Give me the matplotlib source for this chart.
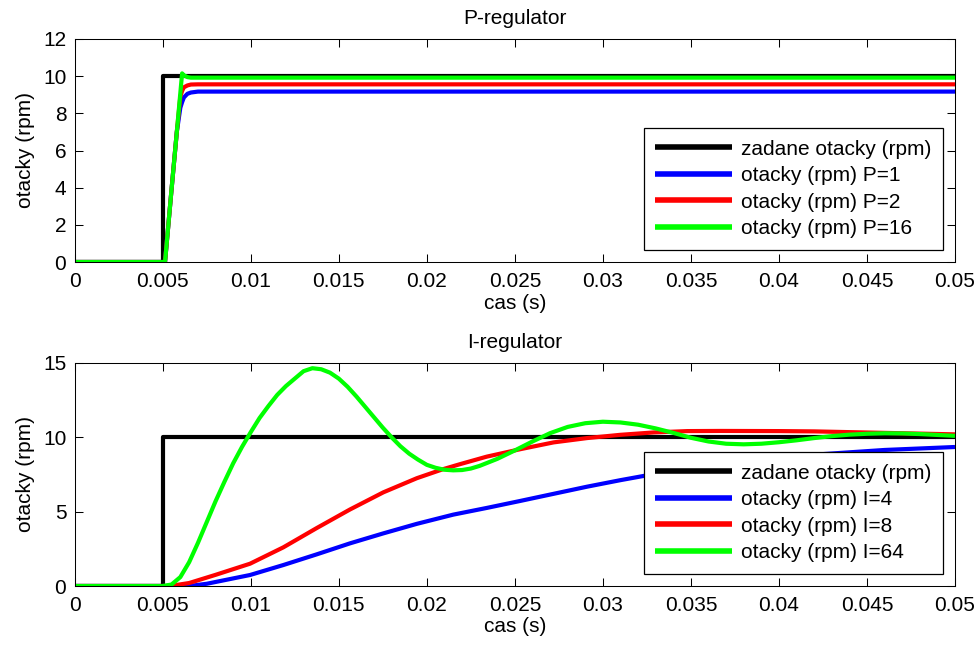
import matplotlib
matplotlib.use("Agg")
import matplotlib.pyplot as plt
import numpy as np

plt.rcParams['font.family'] = ['Liberation Sans', 'DejaVu Sans']

# ---------------- data ----------------
# reference (step) signal
t_ref = [0.0, 0.005, 0.005, 0.05]
v_ref = [0.0, 0.0, 10.0, 10.0]

# P-regulator responses
t_p = [0.0, 0.00513, 0.0055, 0.0058, 0.0060, 0.0061, 0.0062, 0.0064, 0.0066, 0.0070, 0.0080, 0.05]
p1 = [0.0, 0.0, 3.9, 7.0, 8.3, 8.6, 8.85, 9.05, 9.12, 9.17, 9.17, 9.17]
p2 = [0.0, 0.0, 3.9, 7.0, 8.9, 9.2, 9.4, 9.5, 9.55, 9.56, 9.56, 9.56]
p16 = [0.0, 0.0, 3.9, 7.0, 9.1, 10.15, 10.05, 9.95, 9.92, 9.92, 9.92, 9.92]

# I-regulator responses
t_i4 = [0.0, 0.0065, 0.0075, 0.00996, 0.01185, 0.01375, 0.01564, 0.01753, 0.01943,
        0.0215, 0.0234, 0.0253, 0.0272, 0.0291, 0.0310, 0.0330, 0.0350, 0.0380,
        0.0410, 0.0431, 0.0460, 0.0500]
i4 = [0.0, 0.0, 0.15, 0.74, 1.41, 2.13, 2.87, 3.54, 4.18,
      4.8, 5.25, 5.72, 6.2, 6.68, 7.12, 7.55, 7.95, 8.4,
      8.75, 8.92, 9.15, 9.35]

t_i8 = [0.0, 0.0054, 0.0065, 0.0080, 0.00996, 0.01185, 0.01375, 0.01564, 0.01753,
        0.01943, 0.0209, 0.0219, 0.0234, 0.0253, 0.0272, 0.0291, 0.0310, 0.0329,
        0.0348, 0.0367, 0.0400, 0.0420, 0.0460, 0.0500]
i8 = [0.0, 0.0, 0.2, 0.75, 1.5, 2.6, 3.9, 5.15, 6.3,
      7.25, 7.85, 8.2, 8.7, 9.2, 9.66, 9.95, 10.17, 10.33,
      10.42, 10.43, 10.42, 10.4, 10.3, 10.2]

t_i64 = [0.0, 0.0050, 0.0055, 0.0060, 0.0065, 0.0070, 0.0075, 0.0080, 0.0085, 0.0090,
         0.0095, 0.0100, 0.0105, 0.0110, 0.0115, 0.0120, 0.0125, 0.0130, 0.0135,
         0.0140, 0.0145, 0.0150, 0.0155, 0.0160, 0.0165, 0.0170, 0.0175, 0.0180,
         0.0185, 0.0190, 0.0195, 0.0200, 0.0205, 0.0210, 0.0215, 0.0220, 0.0225,
         0.0230, 0.0240, 0.0250, 0.0260, 0.0270, 0.0280, 0.0290, 0.0300, 0.0310,
         0.0320, 0.0330, 0.0340, 0.0350, 0.0360, 0.0370, 0.0380, 0.0390, 0.0400,
         0.0410, 0.0420, 0.0430, 0.0440, 0.0450, 0.0460, 0.0470, 0.0480, 0.0490,
         0.0500]
i64 = [0.0, 0.0, 0.1, 0.6, 1.6, 2.9, 4.3, 5.7, 7.0, 8.25,
       9.35, 10.35, 11.3, 12.1, 12.85, 13.45, 13.95, 14.45, 14.65,
       14.58, 14.35, 13.95, 13.4, 12.75, 12.05, 11.35, 10.65, 10.0,
       9.4, 8.9, 8.5, 8.15, 7.95, 7.82, 7.78, 7.8, 7.9,
       8.08, 8.55, 9.12, 9.72, 10.28, 10.7, 10.95, 11.05, 11.0,
       10.85, 10.6, 10.3, 9.97, 9.72, 9.57, 9.53, 9.57, 9.67,
       9.8, 9.95, 10.08, 10.18, 10.24, 10.27, 10.26, 10.22, 10.16,
       10.1]

xticks = [0, 0.005, 0.01, 0.015, 0.02, 0.025, 0.03, 0.035, 0.04, 0.045, 0.05]
xticklabels = ['0', '0.005', '0.01', '0.015', '0.02', '0.025', '0.03', '0.035', '0.04', '0.045', '0.05']
yticks_p = [0, 2, 4, 6, 8, 10, 12]
yticks_i = [0, 5, 10, 15]

labels_p = ['zadane otacky (rpm)', 'otacky (rpm) P=1', 'otacky (rpm) P=2', 'otacky (rpm) P=16']
labels_i = ['zadane otacky (rpm)', 'otacky (rpm) I=4', 'otacky (rpm) I=8', 'otacky (rpm) I=64']

# ---------------- figure ----------------
W, H = 978, 647
fig = plt.figure(figsize=(W / 100, H / 100), dpi=100)
fs = 15
lw = 3.0

def px_axes(l, t, r, b):
    return [l / W, 1 - b / H, (r - l) / W, (b - t) / H]

ax1 = fig.add_axes(px_axes(74.7, 39, 955, 262))
ax2 = fig.add_axes(px_axes(74.7, 363, 955, 586))

def style(ax, yticks, title, ylim):
    ax.set_xlim(0, 0.05)
    ax.set_ylim(*ylim)
    ax.set_xticks(xticks)
    ax.set_xticklabels(xticklabels)
    ax.set_yticks(yticks)
    ax.set_yticklabels([str(v) for v in yticks])
    ax.tick_params(direction='in', length=5.5, width=0.75, top=True, right=True,
                   labelsize=fs, colors='black')
    ax.tick_params(axis='x', pad=7)
    ax.tick_params(axis='y', pad=6)
    for s in ax.spines.values():
        s.set_linewidth(0.75)
    ax.set_xlabel('cas (s)', fontsize=fs, labelpad=2)
    ax.set_ylabel('otacky (rpm)', fontsize=fs, labelpad=6)
    ax.set_title(title, fontsize=fs, pad=11)

kw = dict(lw=lw, solid_joinstyle='round', solid_capstyle='butt')
ax1.plot(t_ref, v_ref, color='black', label=labels_p[0], **kw)
ax1.plot(t_p, p1, color='#0000ff', label=labels_p[1], **kw)
ax1.plot(t_p, p2, color='#ff0000', label=labels_p[2], **kw)
ax1.plot(t_p, p16, color='#00ff00', label=labels_p[3], **kw)
style(ax1, yticks_p, 'P-regulator', (0, 12))

ax2.plot(t_ref, v_ref, color='black', label=labels_i[0], **kw)
ax2.plot(t_i4, i4, color='#0000ff', label=labels_i[1], **kw)
ax2.plot(t_i8, i8, color='#ff0000', label=labels_i[2], **kw)
ax2.plot(t_i64, i64, color='#00ff00', label=labels_i[3], **kw)
style(ax2, yticks_i, 'I-regulator', (0, 15))

for ax in (ax1, ax2):
    leg = ax.legend(loc='lower right', fontsize=fs, fancybox=False, framealpha=1,
                    edgecolor='black', borderaxespad=0.6, handlelength=3.7,
                    handletextpad=0.4, labelspacing=0.36, borderpad=0.55)
    leg.get_frame().set_linewidth(0.9)
    for h in leg.get_lines():
        h.set_linewidth(4)

fig.savefig('out.png', dpi=100)
